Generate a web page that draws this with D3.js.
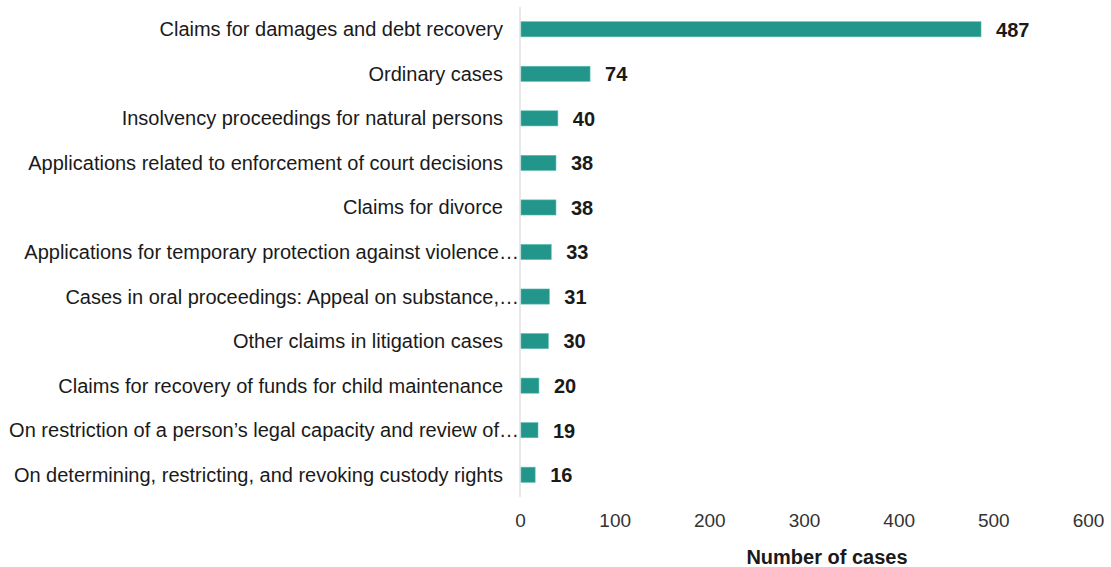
<!DOCTYPE html>
<html>
<head>
<meta charset="utf-8">
<script src="https://cdn.jsdelivr.net/npm/d3@7"></script>
<style>
  html, body { margin: 0; padding: 0; background: #fff; }
  svg { display: block; font-family: "Liberation Sans", Arial, sans-serif; }
</style>
</head>
<body>
<svg id="chart" width="1111" height="567"></svg>
<script>
// Case categories, top to bottom
const categories = [
  "Claims for damages and debt recovery",
  "Ordinary cases",
  "Insolvency proceedings for natural persons",
  "Applications related to enforcement of court decisions",
  "Claims for divorce",
  "Applications for temporary protection against violence…",
  "Cases in oral proceedings: Appeal on substance,…",
  "Other claims in litigation cases",
  "Claims for recovery of funds for child maintenance",
  "On restriction of a person’s legal capacity and review of…",
  "On determining, restricting, and revoking custody rights"
];
// Number of cases per category
const caseCounts = [487, 74, 40, 38, 38, 33, 31, 30, 20, 19, 16];
// Axis ticks
const xTicks = [0, 100, 200, 300, 400, 500, 600];
const axisTitle = "Number of cases";

const svg = d3.select("#chart");
const margin = { top: 7, left: 520, right: 23, bottom: 70 };
const width = 1111, height = 567;

const x = d3.scaleLinear().domain([0, 600]).range([margin.left, width - margin.right]);
const y = d3.scaleBand().domain(categories).range([margin.top, height - margin.bottom]).paddingInner(0.66).paddingOuter(0.33);

const barColor = "#23968b";

// vertical baseline
svg.append("line")
  .attr("x1", x(0)).attr("x2", x(0))
  .attr("y1", margin.top).attr("y2", height - margin.bottom)
  .attr("stroke", "#d9d9d9").attr("stroke-width", 1.2);

// bars
svg.append("g").selectAll("rect")
  .data(categories)
  .join("rect")
  .attr("x", x(0) + 1)
  .attr("y", d => y(d))
  .attr("width", (d, i) => x(caseCounts[i]) - x(0) - 1)
  .attr("height", y.bandwidth())
  .attr("fill", barColor)
  .attr("stroke", "#5fbdb3").attr("stroke-width", 0.6);

// category labels
svg.append("g").selectAll("text")
  .data(categories)
  .join("text")
  .attr("x", d => d.endsWith("…") ? x(0) - 1 : x(0) - 17)
  .attr("y", d => y(d) + y.bandwidth() / 2)
  .attr("dy", "0.35em")
  .attr("text-anchor", "end")
  .attr("font-size", 20)
  .attr("fill", "#1a1a1a")
  .text(d => d);

// value labels
svg.append("g").selectAll("text")
  .data(categories)
  .join("text")
  .attr("x", (d, i) => x(caseCounts[i]) + 15)
  .attr("y", d => y(d) + y.bandwidth() / 2)
  .attr("dy", "0.37em")
  .attr("font-size", 20)
  .attr("font-weight", "bold")
  .attr("fill", "#1a1a1a")
  .text((d, i) => caseCounts[i]);

// x axis tick labels
const xAxis = d3.axisBottom(x).tickValues(xTicks).tickSize(0).tickPadding(0);
const gx = svg.append("g").attr("transform", `translate(0, ${height - margin.bottom + 16})`).call(xAxis);
gx.select(".domain").remove();
gx.selectAll("text")
  .attr("font-size", 19)
  .attr("font-family", "Liberation Sans, Arial, sans-serif")
  .attr("fill", "#333");

// axis title
svg.append("text")
  .attr("x", 827)
  .attr("y", 564)
  .attr("text-anchor", "middle")
  .attr("font-size", 20)
  .attr("font-weight", "bold")
  .attr("fill", "#1a1a1a")
  .text(axisTitle);
</script>
</body>
</html>
